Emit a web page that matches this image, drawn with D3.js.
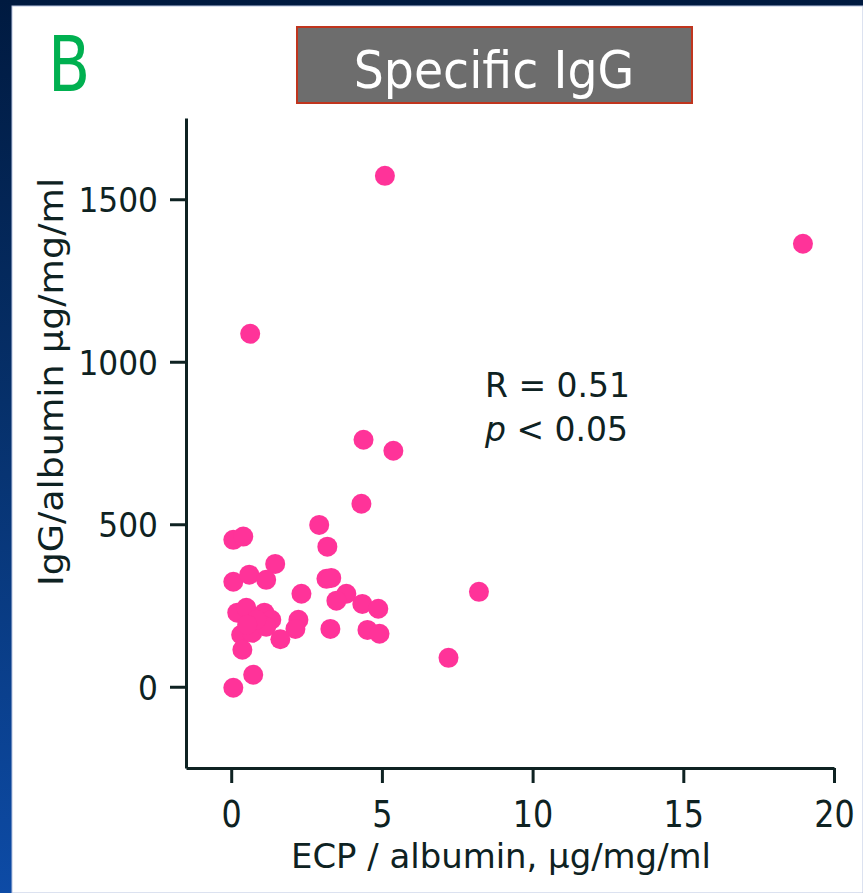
<!DOCTYPE html>
<html>
<head>
<meta charset="utf-8">
<script src="https://cdn.jsdelivr.net/npm/d3@7"></script>
<style>
  body { margin: 0; background: #fff; }
  svg { display: block; }
</style>
</head>
<body>
<svg id="chart" width="863" height="893"></svg>
<script>
// ECP/albumin (x) and specific IgG/albumin (y)
var ecp = [5.1, 18.97, 0.63, 4.39, 5.38, 4.32, 2.92, 3.19, 0.07, 0.4,
           1.46, 0.07, 0.6, 1.16, 3.16, 3.32, 2.33, 3.82, 3.49, 4.35,
           4.88, 8.22, 2.23, 2.13, 3.29, 4.52, 4.92, 1.63, 7.21, 0.73,
           0.07, 0.2, 0.5, 1.1, 1.33, 0.33, 0.7, 0.37, 1.16, 0.83, 0.53]
var igg = [1572, 1363, 1086, 760, 726, 563, 498, 431, 452, 462,
           378, 323, 345, 329, 332, 335, 286, 286, 265, 255,
           240, 292, 206, 178, 178, 175, 163, 146, 89, 37,
           -3, 228, 243, 228, 206, 160, 166, 114, 185, 206, 191]
var xTicks = [0, 5, 10, 15, 20]
var yTicks = [0, 500, 1000, 1500]
var statLines = ["R = 0.51", "< 0.05"]

var W = 863, H = 893
var inkColor = "#0e2222"
var dotColor = "#ff3399"
var font = "'DejaVu Sans', Verdana, sans-serif"

// the slide text is horizontally squeezed; shrink a text's advance by a factor
function squeeze(sel, f) {
	sel.each(function() {
		var len = this.getComputedTextLength()
		d3.select(this).attr("textLength", len * f).attr("lengthAdjust", "spacingAndGlyphs")
	})
}

var svg = d3.select("#chart")

// backdrop: dark blue slide with the white panel on top
var defs = svg.append("defs")
var grad = defs.append("linearGradient")
	.attr("id", "bg")
	.attr("x1", 0).attr("y1", 0).attr("x2", 0).attr("y2", 1)
grad.append("stop").attr("offset", "0%").attr("stop-color", "#001a40")
grad.append("stop").attr("offset", "45%").attr("stop-color", "#06306a")
grad.append("stop").attr("offset", "100%").attr("stop-color", "#0d4ba6")

svg.append("rect").attr("width", W).attr("height", H).attr("fill", "url(#bg)")
svg.append("rect")
	.attr("x", 12).attr("y", 6)
	.attr("width", W - 12).attr("height", H - 6)
	.attr("fill", "#fff")
	.attr("stroke", "#b8c4e0").attr("stroke-width", 1)

// panel letter
svg.append("text")
	.attr("x", 48).attr("y", 91)
	.attr("font-family", font)
	.attr("font-size", 77)
	.attr("fill", "#00b050")
	.text("B")
	.call(squeeze, 0.8)

// title box
svg.append("rect")
	.attr("x", 297).attr("y", 27)
	.attr("width", 395).attr("height", 76)
	.attr("fill", "#6d6d6d")
	.attr("stroke", "#c0351e").attr("stroke-width", 2)
svg.append("text")
	.attr("x", 494).attr("y", 88)
	.attr("text-anchor", "middle")
	.attr("font-family", font)
	.attr("font-size", 51)
	.attr("fill", "#fff")
	.text("Specific IgG")
	.call(squeeze, 0.93)

var x = d3.scaleLinear().domain([-1.5, 20]).range([186, 834])
var y = d3.scaleLinear().domain([-250, 1750]).range([768, 118])

// y axis
var gy = svg.append("g")
	.attr("transform", "translate(186,0)")
	.call(d3.axisLeft(y).tickValues(yTicks).tickFormat(d3.format("d"))
		.tickSize(16).tickSizeOuter(0).tickPadding(12))
gy.select(".domain").attr("stroke", inkColor).attr("stroke-width", 3)
gy.selectAll(".tick line").attr("stroke", inkColor).attr("stroke-width", 3)
gy.selectAll(".tick text")
	.attr("fill", inkColor)
	.attr("font-family", font)
	.attr("font-size", 34)
	.attr("dy", "0.36em")
	.call(squeeze, 0.92)

// x axis
var gx = svg.append("g")
	.attr("transform", "translate(0,768)")
	.call(d3.axisBottom(x).tickValues(xTicks).tickSize(15).tickSizeOuter(0).tickPadding(14))
gx.select(".domain").attr("stroke", inkColor).attr("stroke-width", 3)
gx.selectAll(".tick line").attr("stroke", inkColor).attr("stroke-width", 3)
gx.selectAll(".tick text")
	.attr("fill", inkColor)
	.attr("font-family", font)
	.attr("font-size", 37)
	.attr("y", 59).attr("dy", null)
	.call(squeeze, 0.86)

// axis titles
svg.append("text")
	.attr("x", 501).attr("y", 868)
	.attr("text-anchor", "middle")
	.attr("font-family", font)
	.attr("font-size", 34)
	.attr("fill", inkColor)
	.text("ECP / albumin, \u03bcg/mg/ml")
	.attr("textLength", 420).attr("lengthAdjust", "spacingAndGlyphs")

svg.append("text")
	.attr("transform", "translate(63,382) rotate(-90)")
	.attr("text-anchor", "middle")
	.attr("font-family", font)
	.attr("font-size", 34)
	.attr("fill", inkColor)
	.text("IgG/albumin \u03bcg/mg/ml")
	.attr("textLength", 408).attr("lengthAdjust", "spacingAndGlyphs")

// points
var pts = ecp.map(function(v, i) { return { x: v, y: igg[i] } })
svg.append("g").selectAll("circle")
	.data(pts)
	.enter().append("circle")
	.attr("cx", function(d) { return x(d.x) })
	.attr("cy", function(d) { return y(d.y) })
	.attr("r", 10)
	.attr("fill", dotColor)

// correlation note
var note = svg.append("g")
	.attr("font-family", font)
	.attr("font-size", 33)
	.attr("fill", inkColor)
note.append("text").attr("x", 485).attr("y", 397).text(statLines[0])
var pl = note.append("text").attr("x", 485).attr("y", 441)
pl.append("tspan").attr("font-style", "italic").text("p")
pl.append("tspan").text(" " + statLines[1])
</script>
</body>
</html>
